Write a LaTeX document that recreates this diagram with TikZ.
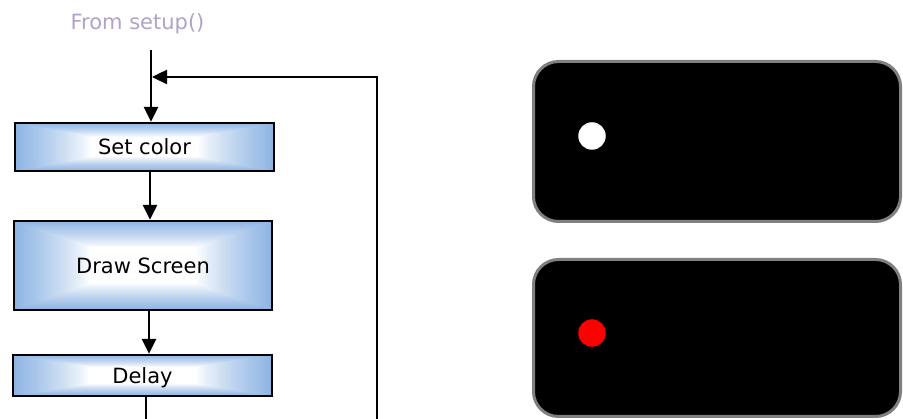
\documentclass[tikz,border=0pt]{standalone}
\usepackage{fontspec}
\setmainfont{DejaVu Sans}
\usetikzlibrary{arrows.meta,calc}
\definecolor{boxblue}{RGB}{141,180,227}
\definecolor{lavender}{RGB}{179,162,199}
\definecolor{panelgray}{RGB}{128,128,128}
\tikzset{
  gradbox/.style={draw=black, line width=2.3pt, inner sep=0pt,
    font=\fontsize{21}{25}\selectfont, text height=15.3pt, text depth=0pt,
    path picture={
      \foreach \i in {0,...,40}{
        \pgfmathsetmacro\s{\i/40*0.29}
        \pgfmathsetmacro\r{1-\s}
        \pgfmathtruncatemacro\p{100*(1-\i/40)^0.8}
        \fill[boxblue!\p!white]
          ($(path picture bounding box.south west)!\s!(path picture bounding box.north east)$)
          rectangle
          ($(path picture bounding box.south west)!\r!(path picture bounding box.north east)$);
      }}},
  flow/.style={line width=2.4pt, -{Triangle[length=15pt,width=14pt]}},
  plainline/.style={line width=2.4pt},
  panel/.style={fill=black, draw=panelgray, line width=3pt, rounded corners=25pt, inner sep=0pt},
  dot/.style={circle, inner sep=0pt, minimum size=27.5pt},
  title/.style={font=\fontsize{21}{25}\selectfont, text=lavender, inner sep=0pt, anchor=base},
}
\begin{document}
\begin{tikzpicture}[x=1pt,y=-1pt]
\useasboundingbox (0,0) rectangle (903,419);
\fill[white] (0,0) rectangle (903,419);

% title
\node[title] (from) at (137.5,30) {From setup()};

% flow boxes
\node[gradbox, minimum width=259pt, minimum height=48pt] (setc) at (144.5,147) {Set color};
\node[gradbox, minimum width=258pt, minimum height=89pt] (drawscr) at (143,265.5) {Draw Screen};
\node[gradbox, minimum width=259pt, minimum height=41pt] (delay) at (142.5,375.5) {Delay};

% helper coordinates
\coordinate (entry) at (151,50);
\coordinate (ax1) at (150,0);
\coordinate (ax2) at (149,0);
\coordinate (exit) at (146,419);
\coordinate (loopstart) at (377,419);
\coordinate (join) at (152,77);

% connectors
\draw[flow] (entry) -- (entry |- setc.north);
\draw[flow] (setc.south -| ax1) -- (drawscr.north -| ax1);
\draw[flow] (drawscr.south -| ax2) -- (delay.north -| ax2);
\draw[plainline] (delay.south -| exit) -- (exit);
\draw[flow] (loopstart) |- (join);

% screens
\node[panel, minimum width=367pt, minimum height=160pt] (screen1) at (717,141.5) {};
\node[panel, minimum width=367pt, minimum height=157pt] (screen2) at (717,338) {};
\node[dot, fill=white] (dot1) at (592,136) {};
\node[dot, fill=red] (dot2) at (592,333) {};
\end{tikzpicture}
\end{document}
